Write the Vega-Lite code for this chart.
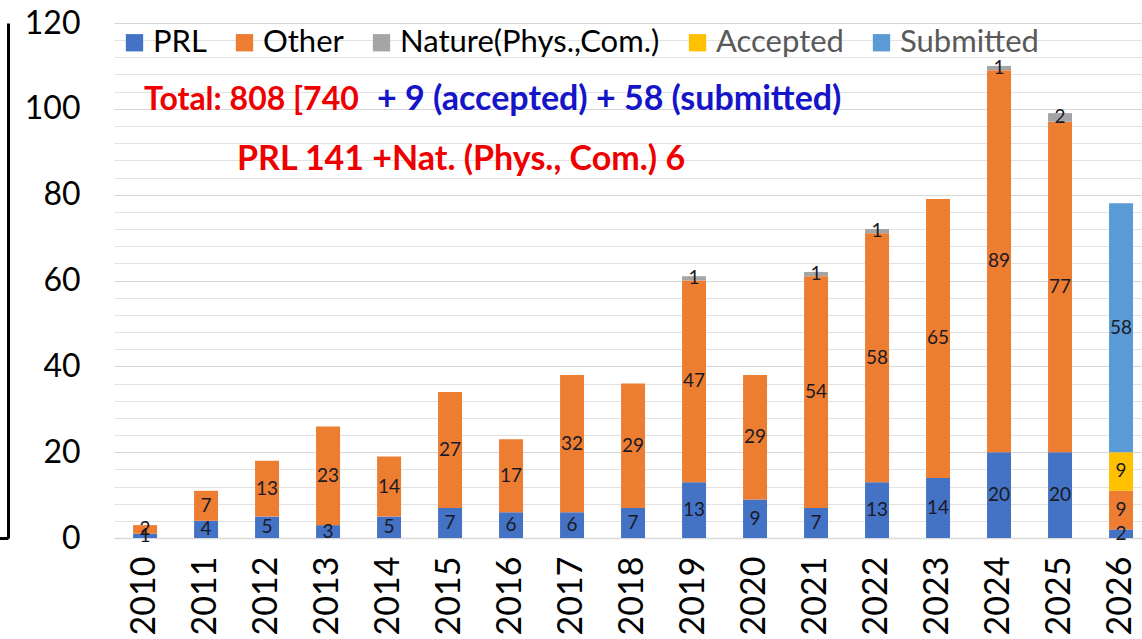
{
  "$schema": "https://vega.github.io/schema/vega-lite/v6.json",
  "width": 1028,
  "height": 515,
  "autosize": "none",
  "padding": {"left": 114, "top": 23, "right": 0, "bottom": 101},
  "background": "white",
  "config": {"view": {"stroke": null}, "font": "Lato"},
  "data": {
    "values": [
      {"year": "2010", "type": "PRL", "count": 1},
      {"year": "2010", "type": "Other", "count": 2},
      {"year": "2011", "type": "PRL", "count": 4},
      {"year": "2011", "type": "Other", "count": 7},
      {"year": "2012", "type": "PRL", "count": 5},
      {"year": "2012", "type": "Other", "count": 13},
      {"year": "2013", "type": "PRL", "count": 3},
      {"year": "2013", "type": "Other", "count": 23},
      {"year": "2014", "type": "PRL", "count": 5},
      {"year": "2014", "type": "Other", "count": 14},
      {"year": "2015", "type": "PRL", "count": 7},
      {"year": "2015", "type": "Other", "count": 27},
      {"year": "2016", "type": "PRL", "count": 6},
      {"year": "2016", "type": "Other", "count": 17},
      {"year": "2017", "type": "PRL", "count": 6},
      {"year": "2017", "type": "Other", "count": 32},
      {"year": "2018", "type": "PRL", "count": 7},
      {"year": "2018", "type": "Other", "count": 29},
      {"year": "2019", "type": "PRL", "count": 13},
      {"year": "2019", "type": "Other", "count": 47},
      {"year": "2019", "type": "Nature(Phys.,Com.)", "count": 1},
      {"year": "2020", "type": "PRL", "count": 9},
      {"year": "2020", "type": "Other", "count": 29},
      {"year": "2021", "type": "PRL", "count": 7},
      {"year": "2021", "type": "Other", "count": 54},
      {"year": "2021", "type": "Nature(Phys.,Com.)", "count": 1},
      {"year": "2022", "type": "PRL", "count": 13},
      {"year": "2022", "type": "Other", "count": 58},
      {"year": "2022", "type": "Nature(Phys.,Com.)", "count": 1},
      {"year": "2023", "type": "PRL", "count": 14},
      {"year": "2023", "type": "Other", "count": 65},
      {"year": "2024", "type": "PRL", "count": 20},
      {"year": "2024", "type": "Other", "count": 89},
      {"year": "2024", "type": "Nature(Phys.,Com.)", "count": 1},
      {"year": "2025", "type": "PRL", "count": 20},
      {"year": "2025", "type": "Other", "count": 77},
      {"year": "2025", "type": "Nature(Phys.,Com.)", "count": 2},
      {"year": "2026", "type": "PRL", "count": 2},
      {"year": "2026", "type": "Other", "count": 9},
      {"year": "2026", "type": "Accepted", "count": 9},
      {"year": "2026", "type": "Submitted", "count": 58}
    ]
  },
  "layer": [
    {
      "transform": [
        {"calculate": "indexof(['PRL','Other','Nature(Phys.,Com.)','Accepted','Submitted'], datum.type)", "as": "rank"},
        {"stack": "count", "groupby": ["year"], "sort": [{"field": "rank", "order": "ascending"}], "as": ["y0", "y1"]}
      ],
      "mark": {"type": "bar"},
      "encoding": {
        "x": {
          "field": "year", "type": "ordinal",
          "scale": {"paddingInner": 0.607, "paddingOuter": 0.23, "align": 0.68},
          "axis": {"labelAngle": -90, "labelFontSize": 34, "labelColor": "#000000", "labelPadding": 18, "ticks": false, "domainColor": "#d9d9d9", "domainWidth": 1.3, "title": null, "grid": false, "labelOverlap": false}
        },
        "y": {
          "field": "y0", "type": "quantitative",
          "scale": {"domain": [0, 120], "nice": false},
          "axis": {
            "values": [0,4,8,12,16,20,24,28,32,36,40,44,48,52,56,60,64,68,72,76,80,84,88,92,96,100,104,108,112,116,120],
            "tickCount": 40,
            "labelExpr": "datum.value % 20 === 0 ? datum.label : ''",
            "labelOverlap": false,
            "grid": true,
            "gridColor": {"condition": {"test": "datum.value % 20 === 0", "value": "#d6d6d6"}, "value": "#e2e2e2"},
            "gridWidth": 1.2,
            "domain": true, "domainColor": "#000000", "domainWidth": 3,
            "offset": 106,
            "ticks": true, "tickSize": 10, "tickWidth": 3,
            "tickColor": {"condition": {"test": "datum.value === 0", "value": "#000000"}, "value": "transparent"},
            "labelPadding": -82,
            "labelFontSize": 32, "labelColor": "#000000", "title": null
          }
        },
        "y2": {"field": "y1"},
        "color": {
          "field": "type", "type": "nominal",
          "scale": {"domain": ["PRL", "Other", "Nature(Phys.,Com.)", "Accepted", "Submitted"], "range": ["#4472C4", "#ED7D31", "#A5A5A5", "#FFC000", "#5B9BD5"]},
          "legend": {
            "orient": "none", "legendX": 5, "legendY": 4, "direction": "horizontal", "columns": 5,
            "title": null, "symbolType": "square", "symbolSize": 300, "symbolStrokeWidth": 0,
            "labelFontSize": 31, "labelOffset": 3, "columnPadding": 22, "labelLimit": 500, "padding": 0,
            "encode": {"labels": {"update": {"fill": {"signal": "indexof(['Accepted','Submitted'], datum.label) >= 0 ? '#595959' : '#000000'"}}}}
          }
        }
      }
    },
    {
      "transform": [
        {"calculate": "indexof(['PRL','Other','Nature(Phys.,Com.)','Accepted','Submitted'], datum.type)", "as": "rank"},
        {"stack": "count", "groupby": ["year"], "sort": [{"field": "rank", "order": "ascending"}], "as": ["y0", "y1"]},
        {"calculate": "(datum.y0 + datum.y1) / 2", "as": "mid"}
      ],
      "mark": {"type": "text", "fontSize": 19, "color": "#1a1a26", "baseline": "middle", "align": "center"},
      "encoding": {
        "x": {"field": "year", "type": "ordinal"},
        "y": {"field": "mid", "type": "quantitative"},
        "text": {"field": "count", "type": "quantitative"}
      }
    },
    {
      "data": {"values": [{"year": "2010", "y": 102, "label": "Total: 808 [740"}]},
      "mark": {"type": "text", "align": "left", "baseline": "middle", "fontSize": 32, "fontWeight": "bold", "color": "#EE0000", "dx": -1},
      "encoding": {
        "x": {"field": "year", "type": "ordinal"},
        "y": {"field": "y", "type": "quantitative"},
        "text": {"field": "label"}
      }
    },
    {
      "data": {"values": [{"year": "2014", "y": 102, "label": "+ 9 (accepted) + 58 (submitted)"}]},
      "mark": {"type": "text", "align": "left", "baseline": "middle", "fontSize": 34, "fontWeight": "bold", "color": "#1414C8", "dx": -12},
      "encoding": {
        "x": {"field": "year", "type": "ordinal"},
        "y": {"field": "y", "type": "quantitative"},
        "text": {"field": "label"}
      }
    },
    {
      "data": {"values": [{"year": "2012", "y": 88, "label": "PRL 141 +Nat. (Phys., Com.) 6"}]},
      "mark": {"type": "text", "align": "left", "baseline": "middle", "fontSize": 34, "fontWeight": "bold", "color": "#EE0000", "dx": -30},
      "encoding": {
        "x": {"field": "year", "type": "ordinal"},
        "y": {"field": "y", "type": "quantitative"},
        "text": {"field": "label"}
      }
    }
  ]
}
